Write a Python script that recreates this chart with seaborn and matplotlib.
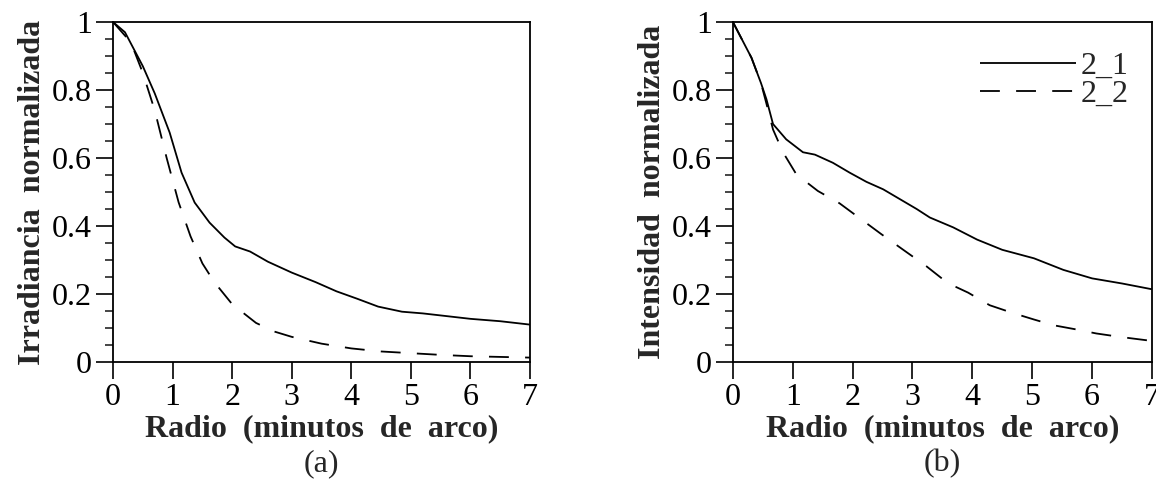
import numpy as np
import pandas as pd
import matplotlib
matplotlib.use("Agg")
import matplotlib.pyplot as plt
import seaborn as sns
from matplotlib.ticker import MultipleLocator

# (a) irradiancia normalizada
radio_a1 = [0, 0.2, 0.5, 0.7, 0.95, 1.15, 1.37, 1.62, 1.87, 2.05, 2.3, 2.6, 3.0, 3.4,
            3.75, 4.1, 4.45, 4.85, 5.2, 5.6, 6.0, 6.5, 7.0]
irr_a1 = [1.0, 0.97, 0.87, 0.79, 0.675, 0.557, 0.469, 0.41, 0.366, 0.34, 0.325, 0.295,
          0.263, 0.235, 0.208, 0.186, 0.163, 0.148, 0.143, 0.135, 0.127, 0.12, 0.11]
radio_a2 = [0, 0.3, 0.5, 0.7, 0.9, 1.1, 1.3, 1.5, 1.7, 2.0, 2.4, 2.7, 3.0, 3.5, 4.0,
            4.5, 5.0, 5.5, 6.0, 6.5, 7.0]
irr_a2 = [1.0, 0.94, 0.85, 0.74, 0.60, 0.47, 0.37, 0.29, 0.235, 0.17, 0.115, 0.09,
          0.074, 0.054, 0.04, 0.031, 0.026, 0.021, 0.017, 0.015, 0.013]

# (b) intensidad normalizada
radio_b1 = [0, 0.31, 0.47, 0.56, 0.67, 0.89, 1.17, 1.37, 1.67, 1.95, 2.23, 2.51, 2.79,
            3.07, 3.29, 3.68, 4.08, 4.5, 5.03, 5.52, 6.0, 6.5, 7.0]
int_b1 = [1.0, 0.895, 0.82, 0.773, 0.70, 0.655, 0.617, 0.61, 0.586, 0.557, 0.53, 0.508,
          0.479, 0.45, 0.425, 0.396, 0.36, 0.33, 0.305, 0.271, 0.246, 0.231, 0.214]
radio_b2 = [0, 0.31, 0.47, 0.56, 0.67, 0.84, 1.06, 1.42, 1.78, 2.18, 2.48, 2.87, 3.23,
            3.59, 3.93, 4.29, 4.66, 5.03, 5.36, 5.73, 6.07, 6.46, 7.0]
int_b2 = [1.0, 0.895, 0.82, 0.76, 0.684, 0.616, 0.552, 0.503, 0.467, 0.415, 0.376,
          0.327, 0.282, 0.232, 0.204, 0.167, 0.145, 0.125, 0.108, 0.096, 0.084, 0.074, 0.062]

serie_labels = ["2_1", "2_2"]
ytick_vals = [0, 0.2, 0.4, 0.6, 0.8, 1.0]
ytick_text = ["0", "0.2", "0.4", "0.6", "0.8", "1"]

sns.set_style("ticks")
plt.rcParams["font.family"] = ["Liberation Serif", "DejaVu Serif"]

fig = plt.figure(figsize=(11.56, 4.8), dpi=100)
ax_a = fig.add_axes([0.0978, 0.2458, 0.3607, 0.7083])
ax_b = fig.add_axes([0.634, 0.2458, 0.3625, 0.7083])

def make_df(r1, v1, r2, v2):
    return pd.concat([
        pd.DataFrame({"radio": r1, "valor": v1, "serie": serie_labels[0]}),
        pd.DataFrame({"radio": r2, "valor": v2, "serie": serie_labels[1]}),
    ])

df_a = make_df(radio_a1, irr_a1, radio_a2, irr_a2)
df_b = make_df(radio_b1, int_b1, radio_b2, int_b2)

fs = 23
for ax, df, ylab, tag in [(ax_a, df_a, "Irradiancia  normalizada", "(a)"),
                          (ax_b, df_b, "Intensidad  normalizada", "(b)")]:
    sns.lineplot(data=df, x="radio", y="valor", hue="serie", style="serie",
                 palette=["black", "black"], dashes=[(1, 0), (11, 9)],
                 linewidth=1.3, sort=False, ax=ax, legend=(ax is ax_b))
    ax.set_xlim(0, 7)
    ax.set_ylim(0, 1)
    ax.xaxis.set_major_locator(MultipleLocator(1))
    ax.set_yticks(ytick_vals)
    ax.set_yticklabels(ytick_text)
    ax.yaxis.set_minor_locator(MultipleLocator(0.05))
    ax.tick_params(axis="both", which="major", direction="out", length=12, width=1.2,
                   labelsize=fs, colors="black", pad=3)
    ax.tick_params(axis="y", which="minor", direction="out", length=6, width=1.2)
    for s in ax.spines.values():
        s.set_linewidth(1.3)
        s.set_color("black")
    ax.set_xlabel("Radio  (minutos  de  arco)", fontsize=fs, fontweight="bold", labelpad=2)
    ax.set_ylabel(ylab, fontsize=fs, fontweight="bold", labelpad=4)
    bb = ax.get_position()
    fig.text((bb.x0 + bb.x1) / 2, 1 - 464 / 480, tag, ha="center", va="center", fontsize=fs)

leg = ax_b.legend(loc="upper right", frameon=False, fontsize=fs, handlelength=3.0,
                  handletextpad=0.15, labelspacing=-0.05, borderaxespad=0.0,
                  bbox_to_anchor=(0.975, 0.95))
for h in leg.get_lines():
    h.set_linewidth(1.3)

fig.savefig("out.png", dpi=100)
